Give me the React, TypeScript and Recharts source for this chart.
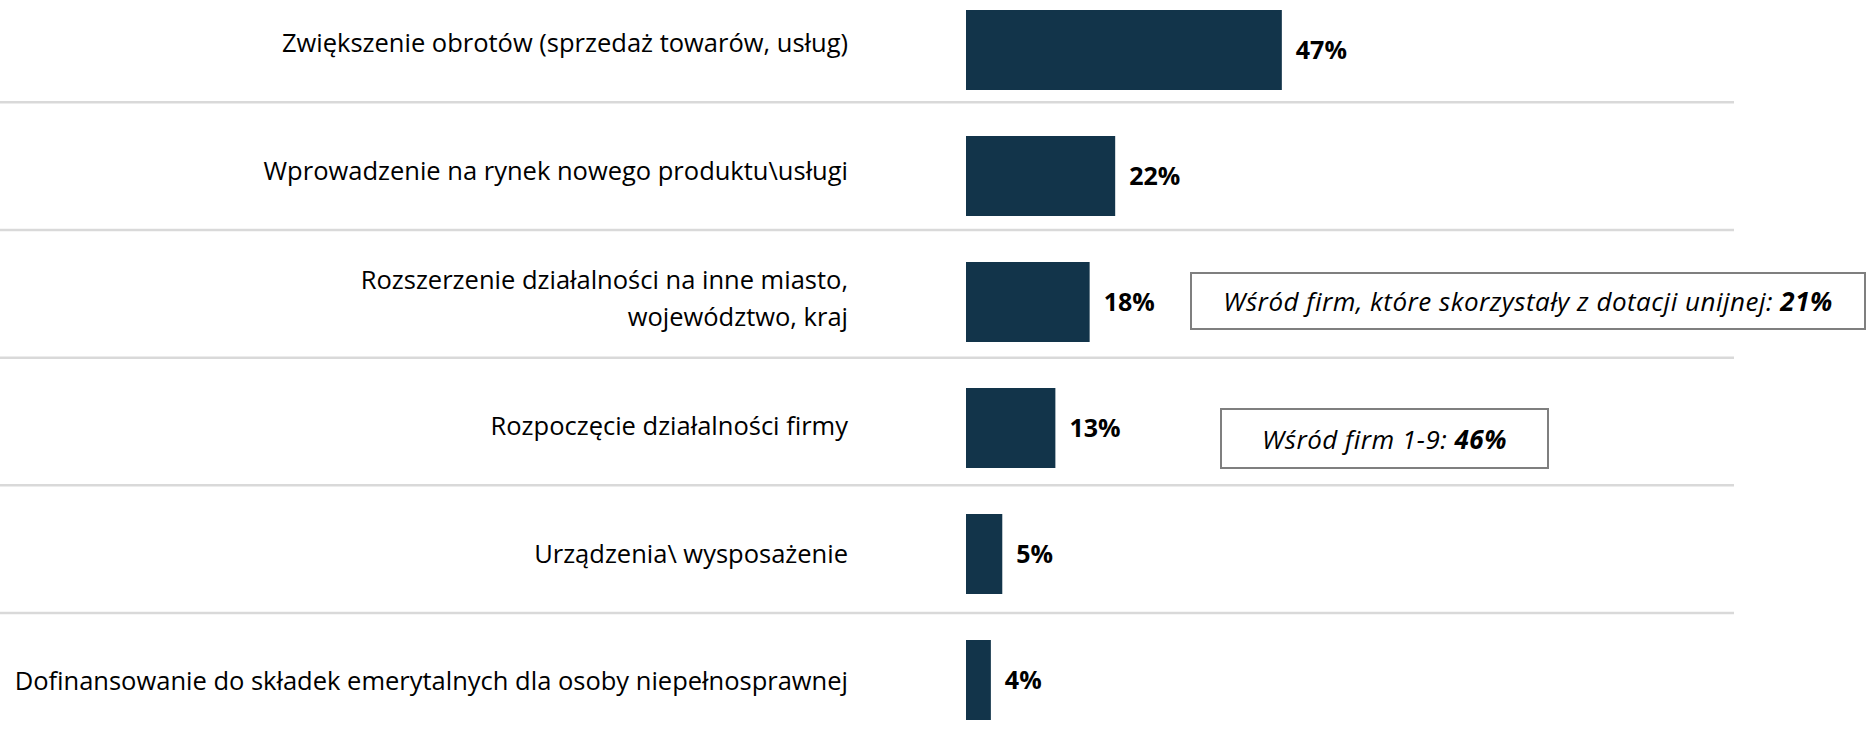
import { BarChart, Bar, XAxis, YAxis, LabelList } from 'recharts'

const categories = [
  'Zwiększenie obrotów (sprzedaż towarów, usług)',
  'Wprowadzenie na rynek nowego produktu\\usługi',
  'Rozszerzenie działalności na inne miasto,\nwojewództwo, kraj',
  'Rozpoczęcie działalności firmy',
  'Urządzenia\\ wysposażenie',
  'Dofinansowanie do składek emerytalnych dla osoby niepełnosprawnej',
]
const shares = [47, 22.2, 18.4, 13.3, 5.4, 3.7]

// callouts next to rows 3 and 4
const noteLabels = ['Wśród firm, które skorzystały z dotacji unijnej: ', 'Wśród firm 1-9: ']
const noteValues = ['21%', '46%']

const FONT = '"Open Sans", Lato, sans-serif'
const BAR_COLOR = '#12344a'
const SEP_COLOR = '#d9d9d9'

if (typeof document !== 'undefined') document.body.style.margin = '0'

const data = categories.map((name, i) => ({ name, value: shares[i] }))

const noteBoxes = [
  { left: 1190, top: 272, width: 676, height: 58 },
  { left: 1220, top: 408, width: 329, height: 61 },
]

function CategoryTick(props: any) {
  const { x, y, payload, index } = props
  const lines = String(payload.value).split('\n')
  const lineHeight = 37
  return (
    <g>
      <text x={x} y={y} textAnchor="end" fontFamily={FONT} fontSize={25.5} fill="#000">
        {lines.map((line, i) => (
          <tspan key={i} x={x} dy={i === 0 ? -((lines.length - 1) * lineHeight) / 2 + 9 : lineHeight}>
            {line}
          </tspan>
        ))}
      </text>
      {index < categories.length - 1 && (
        <line x1={-20} x2={1734} y1={y + 59.5} y2={y + 59.5} stroke={SEP_COLOR} strokeWidth={2.5} />
      )}
    </g>
  )
}

export default function App() {
  return (
    <div style={{ position: 'relative', width: 1868, height: 737, background: '#fff' }}>
      <BarChart
        layout="vertical"
        width={1868}
        height={737}
        data={data}
        margin={{ top: 0, right: 230, bottom: 0, left: 0 }}
      >
        <XAxis type="number" domain={[0, 100]} hide />
        <YAxis
          yAxisId="labels"
          type="category"
          dataKey="name"
          width={966}
          axisLine={false}
          tickLine={false}
          tickSize={0}
          tickMargin={58}
          padding={{ top: -21, bottom: -8 }}
          interval={0}
          tick={<CategoryTick />}
        />
        <YAxis yAxisId="bars" type="category" dataKey="name" hide padding={{ top: -13, bottom: -6 }} />
        <Bar yAxisId="bars" dataKey="value" fill={BAR_COLOR} barSize={80} isAnimationActive={false}>
          <LabelList
            dataKey="value"
            position="right"
            offset={14}
            formatter={(v: any) => `${Math.round(Number(v))}%`}
            fill="#000"
            fontWeight={700}
            fontSize={25}
            fontFamily={FONT}
          />
        </Bar>
      </BarChart>
      {noteBoxes.map((b, i) => (
        <div
          key={i}
          style={{
            position: 'absolute',
            left: b.left,
            top: b.top,
            width: b.width,
            height: b.height,
            boxSizing: 'border-box',
            border: '2px solid #7f7f7f',
            background: '#fff',
            display: 'flex',
            alignItems: 'center',
            justifyContent: 'center',
            fontFamily: FONT,
            fontSize: 26,
            letterSpacing: 0.5,
            fontStyle: 'italic',
            color: '#000',
            whiteSpace: 'nowrap',
          }}
        >
          <span>
            {noteLabels[i]}
            <b>{noteValues[i]}</b>
          </span>
        </div>
      ))}
    </div>
  )
}
